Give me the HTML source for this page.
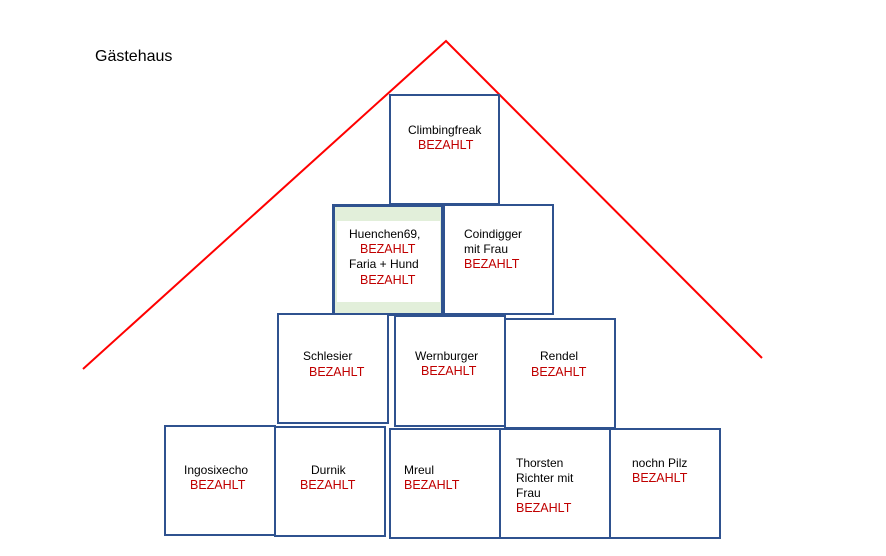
<!DOCTYPE html>
<html><head><meta charset="utf-8"><style>
body{margin:0;width:886px;height:556px;background:#fff;position:relative;overflow:hidden;font-family:"Liberation Sans",Arial,sans-serif;}
.b{position:absolute;box-sizing:border-box;border:2px solid #2f528f;background:#fff;}
.t{position:absolute;font-size:12px;line-height:15px;color:#000;white-space:nowrap;}
.r{color:#c00000;font-size:12.5px;}
</style></head><body>
<svg width="886" height="556" style="position:absolute;left:0;top:0">
<polyline points="83,369 446,41 762,358" fill="none" stroke="#ff0000" stroke-width="2"/>
</svg>
<div class="t" style="left:95px;top:48px;font-size:16px;line-height:18px">Gästehaus</div>

<div class="b" style="left:389px;top:94px;width:111px;height:111px"></div>
<div class="b" style="left:332px;top:204px;width:112px;height:112px;border-width:3px;background:#e2efda"></div>
<div style="position:absolute;left:337px;top:221px;width:103px;height:81px;background:#fff"></div>
<div class="b" style="left:443px;top:204px;width:111px;height:111px"></div>
<div class="b" style="left:277px;top:313px;width:112px;height:111px"></div>
<div class="b" style="left:394px;top:315px;width:112px;height:112px"></div>
<div class="b" style="left:504px;top:318px;width:112px;height:111px"></div>
<div class="b" style="left:164px;top:425px;width:112px;height:111px"></div>
<div class="b" style="left:274px;top:426px;width:112px;height:111px"></div>
<div class="b" style="left:389px;top:428px;width:112px;height:111px"></div>
<div class="b" style="left:499px;top:428px;width:112px;height:111px"></div>
<div class="b" style="left:609px;top:428px;width:112px;height:111px"></div>

<div class="t" style="left:408px;top:123px">Climbingfreak</div>
<div class="t r" style="left:418px;top:138px">BEZAHLT</div>

<div class="t" style="left:349px;top:227px">Huenchen69,</div>
<div class="t r" style="left:360px;top:242px">BEZAHLT</div>
<div class="t" style="left:349px;top:257px">Faria + Hund</div>
<div class="t r" style="left:360px;top:273px">BEZAHLT</div>

<div class="t" style="left:464px;top:227px">Coindigger</div>
<div class="t" style="left:464px;top:242px">mit Frau</div>
<div class="t r" style="left:464px;top:257px">BEZAHLT</div>

<div class="t" style="left:303px;top:349px">Schlesier</div>
<div class="t r" style="left:309px;top:365px">BEZAHLT</div>

<div class="t" style="left:415px;top:349px">Wernburger</div>
<div class="t r" style="left:421px;top:364px">BEZAHLT</div>

<div class="t" style="left:540px;top:349px">Rendel</div>
<div class="t r" style="left:531px;top:365px">BEZAHLT</div>

<div class="t" style="left:184px;top:463px">Ingosixecho</div>
<div class="t r" style="left:190px;top:478px">BEZAHLT</div>

<div class="t" style="left:311px;top:463px">Durnik</div>
<div class="t r" style="left:300px;top:478px">BEZAHLT</div>

<div class="t" style="left:404px;top:463px">Mreul</div>
<div class="t r" style="left:404px;top:478px">BEZAHLT</div>

<div class="t" style="left:516px;top:456px">Thorsten</div>
<div class="t" style="left:516px;top:471px">Richter mit</div>
<div class="t" style="left:516px;top:486px">Frau</div>
<div class="t r" style="left:516px;top:501px">BEZAHLT</div>

<div class="t" style="left:632px;top:456px">nochn Pilz</div>
<div class="t r" style="left:632px;top:471px">BEZAHLT</div>
</body></html>
